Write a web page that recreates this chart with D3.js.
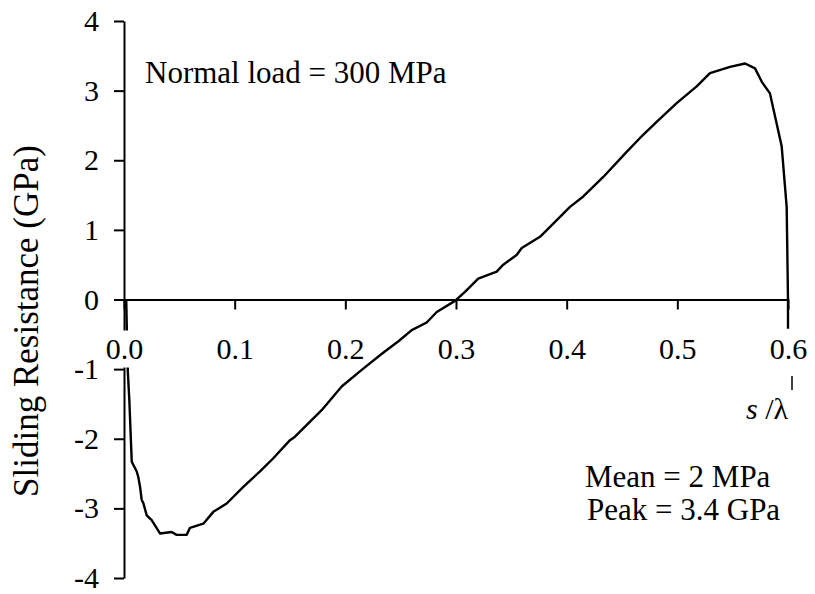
<!DOCTYPE html>
<html>
<head>
<meta charset="utf-8">
<script src="https://cdn.jsdelivr.net/npm/d3@7"></script>
<style>
  body { margin: 0; background: #fff; }
  svg text { font-family: "Liberation Serif", "Times New Roman", serif; fill: #000; }
</style>
</head>
<body>
<div id="chart"></div>
<script>
// s/lambda and sliding resistance (GPa)
const slip = [0.002, 0.0033, 0.0048, 0.0070, 0.0115, 0.0129, 0.0145, 0.0160, 0.0174, 0.0205,
  0.0250, 0.0325, 0.0431, 0.0476, 0.0567, 0.0596, 0.0717, 0.0807, 0.0928, 0.1078,
  0.1229, 0.1349, 0.1500, 0.1545, 0.1786, 0.1967, 0.2148, 0.2330, 0.2480, 0.2600,
  0.2735, 0.2826, 0.2991, 0.3081, 0.3201, 0.3368, 0.3427, 0.3548, 0.3594, 0.3759,
  0.3879, 0.4030, 0.4150, 0.4331, 0.4542, 0.4663, 0.4813, 0.4994, 0.5175, 0.5295,
  0.5476, 0.5612, 0.5702, 0.5762, 0.5837, 0.5943, 0.5988, 0.6, 0.6];
const resistance = [0.0, -0.99, -1.44, -2.33, -2.47, -2.55, -2.69, -2.88, -2.92, -3.10,
  -3.17, -3.36, -3.34, -3.38, -3.38, -3.28, -3.22, -3.05, -2.93, -2.69,
  -2.47, -2.28, -2.02, -1.97, -1.59, -1.25, -1.01, -0.78, -0.60, -0.44,
  -0.33, -0.18, -0.02, 0.11, 0.30, 0.40, 0.50, 0.64, 0.74, 0.90,
  1.09, 1.33, 1.48, 1.76, 2.12, 2.32, 2.55, 2.82, 3.06, 3.25,
  3.34, 3.39, 3.32, 3.13, 2.96, 2.20, 1.33, 0.0, -0.42];

const xTicks = [0, 0.1, 0.2, 0.3, 0.4, 0.5, 0.6];
const yTicks = [-4, -3, -2, -1, 0, 1, 2, 3, 4];

const width = 815, height = 594;
const serif = '"Liberation Serif", "Times New Roman", serif';

const svg = d3.select('#chart')
  .append('svg')
    .attr('width', width)
    .attr('height', height);

const x = d3.scaleLinear().domain([0, 0.6]).range([124, 788]);
const y = d3.scaleLinear().domain([-4, 4]).range([578, 21]);

// Y axis
const yAxis = svg.append('g')
  .attr('transform', 'translate(' + x(0) + ',0)')
  .call(d3.axisLeft(y).tickValues(yTicks).tickSize(10).tickSizeOuter(0).tickPadding(15)
    .tickFormat(d => String(d)));
yAxis.attr('font-family', serif);
yAxis.selectAll('text').style('font-size', '30px');

// curve
const line = d3.line()
  .x((d, i) => x(slip[i]))
  .y(d => y(d));

svg.append('path')
  .datum(resistance)
  .attr('d', line)
  .attr('fill', 'none')
  .attr('stroke', '#000')
  .attr('stroke-width', 2.4)
  .attr('stroke-linejoin', 'round');

// X axis along zero
const xAxis = svg.append('g')
  .attr('transform', 'translate(0,' + y(0) + ')')
  .call(d3.axisBottom(x).tickValues(xTicks).tickSize(10).tickSizeOuter(0)
    .tickFormat(d3.format('.1f')));
xAxis.attr('font-family', serif);
xAxis.selectAll('text')
  .attr('y', 59)
  .attr('dy', null)
  .style('font-size', '30px');
// labels sit on white, breaking the lines beneath them
xAxis.selectAll('.tick').filter(d => d === 0 || d === 0.6)
  .insert('rect', 'text')
    .attr('x', -17).attr('y', 31)
    .attr('width', 34).attr('height', 37)
    .attr('fill', '#fff');

svg.selectAll('.domain, .tick line')
  .attr('stroke', '#000')
  .attr('stroke-width', 2);

// axis titles
svg.append('text')
  .attr('transform', 'translate(38,321) rotate(-90)')
  .attr('text-anchor', 'middle')
  .style('font-size', '35px')
  .text('Sliding Resistance (GPa)');

svg.append('line')
  .attr('x1', 792).attr('x2', 792)
  .attr('y1', 376).attr('y2', 390)
  .attr('stroke', '#000').attr('stroke-width', 1.5);

const sl = svg.append('text')
  .attr('x', 746).attr('y', 419)
  .style('font-size', '30px');
sl.append('tspan').style('font-style', 'italic').text('s');
sl.append('tspan').text(' /λ');

// annotations
svg.append('text')
  .attr('x', 145).attr('y', 83)
  .style('font-size', '31px')
  .text('Normal load = 300 MPa');

svg.append('text')
  .attr('x', 585).attr('y', 487)
  .style('font-size', '31px')
  .text('Mean = 2 MPa');

svg.append('text')
  .attr('x', 587).attr('y', 520)
  .style('font-size', '31px')
  .text('Peak = 3.4 GPa');
</script>
</body>
</html>
